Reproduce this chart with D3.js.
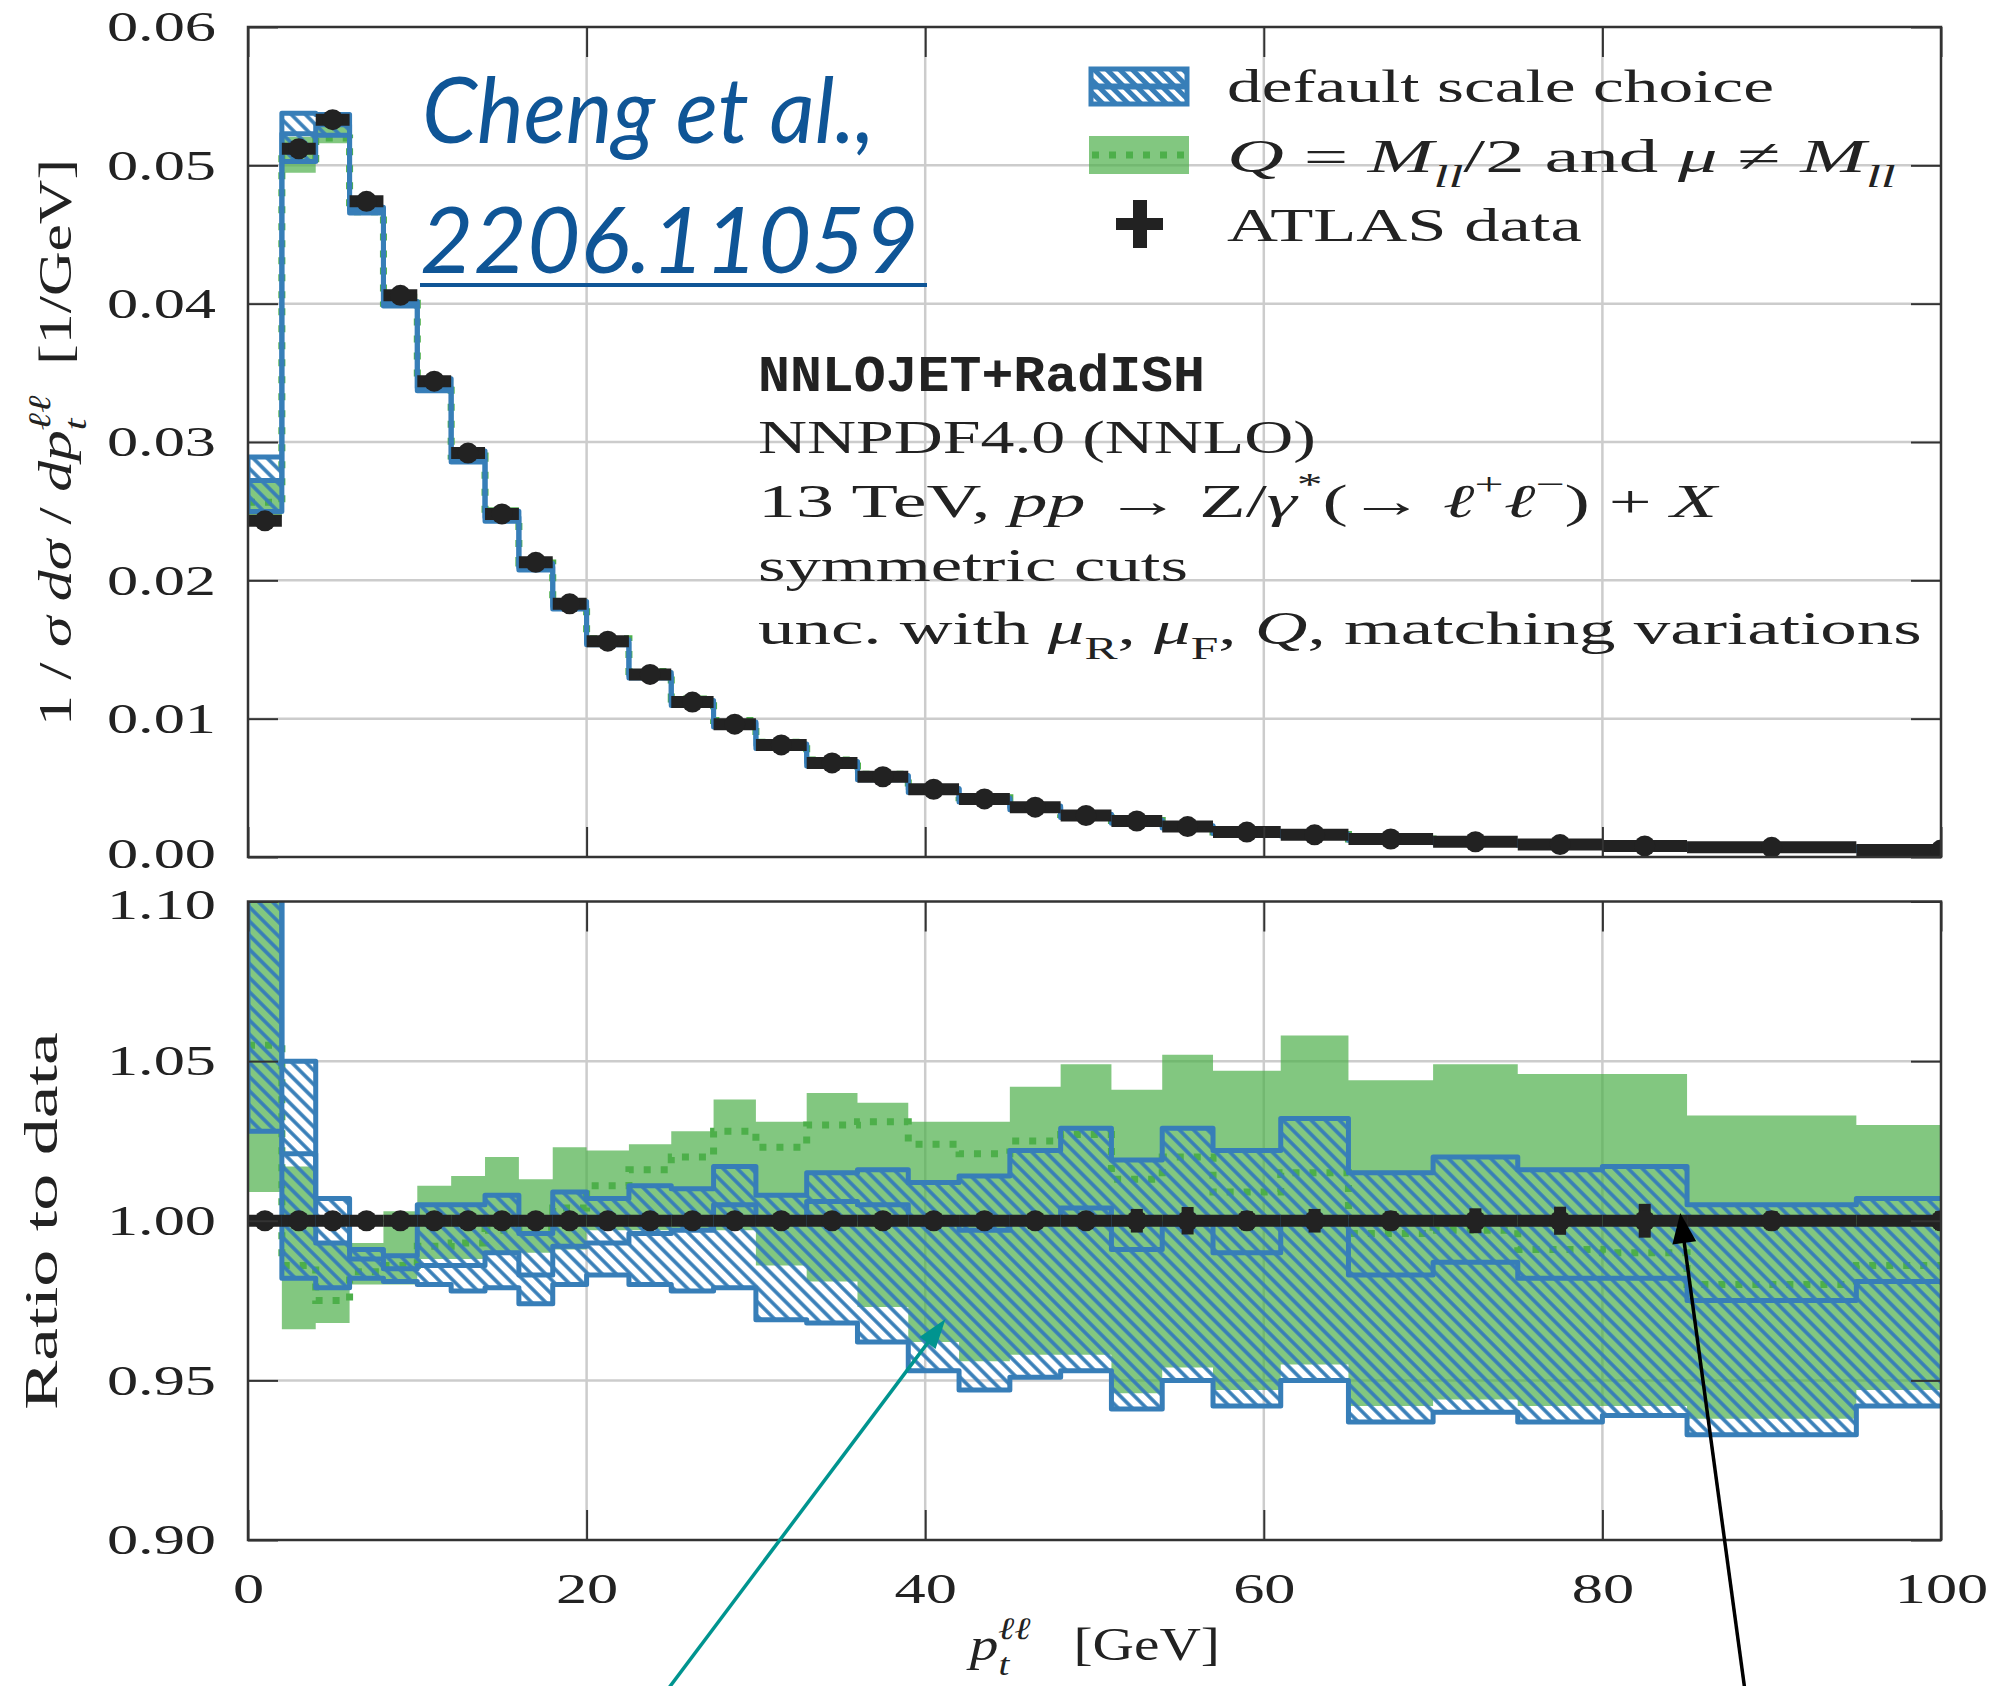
<!DOCTYPE html>
<html>
<head>
<meta charset="utf-8">
<script src="https://cdn.jsdelivr.net/npm/d3@7"></script>
<style>body{margin:0;background:#fff}</style>
</head>
<body>
<script>
const width = 1997;
const height = 1686;

const BLUE = "#377eb8", GREEN = "#4daf4a", INK = "#222222", FRAME = "#333333", GRID = "#cccccc";
const SERIF = "'Liberation Serif', 'DejaVu Serif', serif";
const MONO = "'Liberation Mono', 'DejaVu Sans Mono', monospace";

// ATLAS binning in pT(ll) [GeV]
const binEdges = [0, 2, 4, 6, 8, 10, 12, 14, 16, 18, 20, 22.5, 25, 27.5, 30, 33, 36, 39, 42, 45,
    48, 51, 54, 57, 61, 65, 70, 75, 80, 85, 95, 105];

// 1/sigma dsigma/dpT [1/GeV]
const atlasData = [0.0243, 0.0512, 0.0533, 0.0474, 0.0406, 0.0344, 0.0292, 0.0248, 0.0213, 0.0183,
    0.0156, 0.0132, 0.0112, 0.0096, 0.0081, 0.0068, 0.0058, 0.0049, 0.0042, 0.0036,
    0.0030, 0.0026, 0.0022, 0.0018, 0.0016, 0.0013, 0.0011, 0.0009, 0.0008, 0.0007, 0.0005];
// relative data uncertainty
const dataErr = [0.002, 0.002, 0.002, 0.002, 0.002, 0.002, 0.002, 0.002, 0.002, 0.002,
    0.002, 0.002, 0.002, 0.002, 0.002, 0.002, 0.002, 0.002, 0.002, 0.002,
    0.002, 0.0037, 0.0043, 0.003, 0.0037, 0.003, 0.0039, 0.0044, 0.0053, 0.003, 0.003];

// default scale choice, ratio to data
const blueHi = [1.190, 1.050, 1.007, 0.991, 0.989, 1.005, 1.005, 1.008, 0.996, 1.009,
    1.007, 1.011, 1.010, 1.017, 1.008, 1.015, 1.016, 1.012, 1.014, 1.022,
    1.029, 1.019, 1.029, 1.022, 1.032, 1.015, 1.020, 1.016, 1.017, 1.005, 1.007];
const blueLo = [1.028, 0.982, 0.979, 0.982, 0.981, 0.980, 0.978, 0.979, 0.974, 0.980,
    0.983, 0.980, 0.978, 0.979, 0.969, 0.968, 0.962, 0.953, 0.947, 0.951,
    0.953, 0.941, 0.950, 0.942, 0.950, 0.937, 0.940, 0.937, 0.939, 0.933, 0.942];
const blueMid = [1.120, 1.021, 0.993, 0.988, 0.985, 0.986, 0.986, 0.990, 0.983, 0.992,
    0.993, 0.996, 0.997, 1.005, 1.000, 1.006, 1.005, 0.999, 0.997, 1.000,
    1.004, 0.991, 0.999, 0.990, 1.000, 0.983, 0.987, 0.982, 0.982, 0.975, 0.981];

// Q = Mll/2 and mu != Mll, ratio to data
const greenHi = [1.120, 1.017, 0.993, 0.993, 1.003, 1.011, 1.014, 1.020, 1.013, 1.023,
    1.022, 1.024, 1.028, 1.038, 1.031, 1.040, 1.037, 1.031, 1.031, 1.042,
    1.049, 1.041, 1.052, 1.047, 1.058, 1.044, 1.049, 1.046, 1.046, 1.033, 1.030];
const greenLo = [1.009, 0.966, 0.968, 0.980, 0.980, 0.988, 0.988, 0.990, 0.990, 0.991,
    0.997, 0.997, 0.997, 0.997, 0.986, 0.981, 0.973, 0.962, 0.956, 0.958,
    0.958, 0.946, 0.954, 0.947, 0.955, 0.942, 0.944, 0.942, 0.942, 0.938, 0.947];
const greenMid = [1.055, 0.986, 0.975, 0.984, 0.986, 0.992, 0.993, 0.997, 0.998, 1.004,
    1.011, 1.016, 1.020, 1.028, 1.023, 1.030, 1.031, 1.024, 1.021, 1.025,
    1.027, 1.013, 1.020, 1.009, 1.015, 0.996, 0.997, 0.991, 0.990, 0.980, 0.986];

const xTicks = [0, 20, 40, 60, 80, 100];
const topTicks = [0, 0.01, 0.02, 0.03, 0.04, 0.05, 0.06];
const ratioTicks = [0.90, 0.95, 1.00, 1.05, 1.10];

// annotation arrows, [pT, ratio]
const tealArrow = [[24.3, 0.8497], [41.2, 0.9692]];
const blackArrow = [[88.5, 0.8497], [84.6, 1.0024]];

const n = atlasData.length;

const x = d3.scaleLinear().domain([0, 100]).range([248, 1941]);
const yTop = d3.scaleLinear().domain([0, 0.06]).range([857, 27]);
const yRat = d3.scaleLinear().domain([0.9, 1.1]).range([1540, 901.5]);

const svg = d3.select("body").append("svg")
    .attr("width", width)
    .attr("height", height);

svg.append("rect").attr("width", width).attr("height", height).attr("fill", "#fff");

const defs = svg.append("defs");
defs.append("pattern")
    .attr("id", "hatch")
    .attr("patternUnits", "userSpaceOnUse")
    .attr("width", 10).attr("height", 10)
    .attr("patternTransform", "rotate(-45)")
    .append("line")
    .attr("x1", 5).attr("y1", -2).attr("x2", 5).attr("y2", 12)
    .attr("stroke", BLUE).attr("stroke-width", 3.6);
defs.append("pattern")
    .attr("id", "hatchLegend")
    .attr("patternUnits", "userSpaceOnUse")
    .attr("width", 9).attr("height", 9)
    .attr("patternTransform", "rotate(-45)")
    .append("line")
    .attr("x1", 4.5).attr("y1", -2).attr("x2", 4.5).attr("y2", 11)
    .attr("stroke", BLUE).attr("stroke-width", 5);

function addClip(id, yScale) {
    defs.append("clipPath").attr("id", id).append("rect")
        .attr("x", x(0)).attr("y", yScale.range()[1])
        .attr("width", x(100) - x(0))
        .attr("height", yScale.range()[0] - yScale.range()[1]);
}
addClip("clipTop", yTop);
addClip("clipRat", yRat);

// norm: multiply ratios by this to get panel values (data for top, 1 for ratio)
function drawPanel(yScale, norm, clipId, gridVals) {
    const g = svg.append("g");
    const [y0, y1] = yScale.range();

    g.append("g").selectAll("line")
        .data(xTicks.slice(1, -1))
        .join("line")
        .attr("x1", d => x(d)).attr("x2", d => x(d))
        .attr("y1", y1).attr("y2", y0)
        .attr("stroke", GRID).attr("stroke-width", 2.5);
    g.append("g").selectAll("line")
        .data(gridVals)
        .join("line")
        .attr("x1", x(0)).attr("x2", x(100))
        .attr("y1", d => yScale(d)).attr("y2", d => yScale(d))
        .attr("stroke", GRID).attr("stroke-width", 2.5);

    const body = g.append("g").attr("clip-path", `url(#${clipId})`);

    const pts = binEdges.map((e, i) => {
        const k = Math.min(i, n - 1);
        return {
            e,
            bHi: blueHi[k] * norm[k], bLo: blueLo[k] * norm[k], bMid: blueMid[k] * norm[k],
            gHi: greenHi[k] * norm[k], gLo: greenLo[k] * norm[k], gMid: greenMid[k] * norm[k]
        };
    });

    const area = (hi, lo) => d3.area()
        .curve(d3.curveStepAfter)
        .x(d => x(d.e))
        .y0(d => yScale(d[lo]))
        .y1(d => yScale(d[hi]));
    const line = key => d3.line()
        .curve(d3.curveStepAfter)
        .x(d => x(d.e))
        .y(d => yScale(d[key]));

    body.append("path")
        .attr("d", area("gHi", "gLo")(pts))
        .attr("fill", GREEN).attr("fill-opacity", 0.7);
    body.append("path")
        .attr("d", line("gMid")(pts))
        .attr("fill", "none").attr("stroke", GREEN)
        .attr("stroke-width", 7).attr("stroke-dasharray", "7,10");

    body.append("path")
        .attr("d", area("bHi", "bLo")(pts))
        .attr("fill", "url(#hatch)")
        .attr("stroke", BLUE).attr("stroke-width", 5)
        .attr("stroke-linejoin", "round");
    body.append("path")
        .attr("d", line("bMid")(pts))
        .attr("fill", "none").attr("stroke", BLUE)
        .attr("stroke-width", 5).attr("stroke-linejoin", "round");

    const pointData = atlasData.map((v, i) => ({
        lo: binEdges[i], hi: binEdges[i + 1],
        c: (binEdges[i] + binEdges[i + 1]) / 2,
        v: norm[i] === 1 ? 1 : v,
        err: dataErr[i]
    }));

    const pg = body.append("g");
    pg.selectAll("line.xe")
        .data(pointData)
        .join("line")
        .attr("x1", d => x(d.lo)).attr("x2", d => x(d.hi))
        .attr("y1", d => yScale(d.v)).attr("y2", d => yScale(d.v))
        .attr("stroke", INK).attr("stroke-width", 12);
    pg.selectAll("line.ye")
        .data(pointData)
        .join("line")
        .attr("x1", d => x(d.c)).attr("x2", d => x(d.c))
        .attr("y1", d => yScale(d.v * (1 - d.err))).attr("y2", d => yScale(d.v * (1 + d.err)))
        .attr("stroke", INK).attr("stroke-width", 12);
    pg.selectAll("circle")
        .data(pointData)
        .join("circle")
        .attr("cx", d => x(d.c)).attr("cy", d => yScale(d.v))
        .attr("r", 10.5)
        .attr("fill", INK);
}

function styleAxis(g, labels, nudge) {
    g.select(".domain").remove();
    g.attr("color", FRAME);
    g.selectAll(".tick line").attr("stroke-width", 2);
    if (!labels) {
        g.selectAll("text").remove();
        return;
    }
    g.selectAll("text")
        .attr("font-family", SERIF)
        .attr("font-size", 43)
        .attr("fill", INK)
        .each(function (d) {
            const t = d3.select(this);
            const x0 = +t.attr("x") || 0;
            const dy = nudge ? nudge(d) : 0;
            t.attr("transform", `translate(${x0},${dy}) scale(1.45,1) translate(${-x0},0)`);
        });
}

function drawAxes(yScale, yTicks, xLabels, nudge) {
    const [y0, y1] = yScale.range();
    svg.append("g").attr("transform", `translate(${x(0)},0)`)
        .call(d3.axisLeft(yScale).tickValues(yTicks).tickSize(-30).tickPadding(32)
            .tickFormat(d3.format(".2f")))
        .call(g => styleAxis(g, true, nudge));
    svg.append("g").attr("transform", `translate(${x(100)},0)`)
        .call(d3.axisRight(yScale).tickValues(yTicks).tickSize(-30))
        .call(g => styleAxis(g, false));
    svg.append("g").attr("transform", `translate(0,${y1})`)
        .call(d3.axisTop(x).tickValues(xTicks).tickSize(-30))
        .call(g => styleAxis(g, false));
    svg.append("g").attr("transform", `translate(0,${y0})`)
        .call(d3.axisBottom(x).tickValues(xTicks).tickSize(-30).tickPadding(32)
            .tickFormat(d3.format("d")))
        .call(g => styleAxis(g, xLabels));
    svg.append("rect")
        .attr("x", x(0)).attr("y", y1)
        .attr("width", x(100) - x(0)).attr("height", y0 - y1)
        .attr("fill", "none").attr("stroke", FRAME).attr("stroke-width", 2.5);
}

drawPanel(yTop, atlasData, "clipTop", topTicks.slice(1, -1));
drawPanel(yRat, atlasData.map(() => 1), "clipRat", ratioTicks.slice(1, -1));
// the two labels at the panel junction are pushed slightly apart
drawAxes(yTop, topTicks, false, d => (d === 0 ? -3 : 0));
drawAxes(yRat, ratioTicks, true, d => (d === 1.1 ? 3 : 0));

// text helpers
function rich(parent, segs, size, family) {
    const t = parent.append("text")
        .attr("font-family", family)
        .attr("font-size", size)
        .attr("fill", INK)
        .style("white-space", "pre");
    let shift = 0;
    segs.forEach(([str, kind = "rm", dx = 0]) => {
        const sub = kind.startsWith("sub"), sup = kind.startsWith("sup");
        const target = sub ? 0.32 * size : sup ? -0.46 * size : 0;
        const sp = t.append("tspan").attr("dy", target - shift).text(str);
        shift = target;
        if (sub || sup) sp.attr("font-size", size * 0.68);
        if (kind.endsWith("it")) sp.attr("font-style", "italic");
        if (dx) sp.attr("dx", dx);
    });
    return t;
}

function fit(t, w, anchor) {
    const bb = t.node().getBBox();
    const sx = w / bb.width;
    const ox = anchor === "end" ? -w : anchor === "middle" ? -w / 2 : 0;
    t.attr("transform", `translate(${ox - bb.x * sx},0) scale(${sx},1)`);
    return t;
}

function label(tx, ty, rot, segs, size, family, w, anchor) {
    const g = svg.append("g").attr("transform", `translate(${tx},${ty})` + (rot ? ` rotate(${rot})` : ""));
    const t = rich(g, segs, size, family);
    fit(t, w, anchor);
    return t;
}

// axis titles
label(71, 442.5, -90, [["1 / "], ["σ", "it"], [" d", "it"], ["σ", "it"], [" / "], ["d", "it"], ["p", "it"],
    ["t", "subit"], ["ℓℓ", "supit", -9], ["  [1/GeV]"]], 46, SERIF, 567, "middle");
label(57, 1221, -90, [["Ratio to data"]], 46, SERIF, 378, "middle");
label(966, 1660, 0, [["p", "it"], ["t", "subit"], ["ℓℓ", "supit", -9], ["   [GeV]"]], 46, SERIF, 254, "start");

// process info
label(758, 391, 0, [["NNLOJET+RadISH"]], 52, MONO, 447, "start").attr("font-weight", "bold");
label(758, 453, 0, [["NNPDF4.0 (NNLO)"]], 47, SERIF, 558, "start");
label(758, 517, 0, [["13 TeV, "], ["pp", "it"], [" → Z/"], ["γ", "it"], ["*", "sup"], ["(→ "], ["ℓ", "it"], ["+", "sup"],
    ["ℓ", "it"], ["−", "sup"], [") + "], ["X", "it"]], 47, SERIF, 963, "start");
label(758, 581, 0, [["symmetric cuts"]], 47, SERIF, 430, "start");
label(758, 644, 0, [["unc. with "], ["μ", "it"], ["R", "sub"], [", "], ["μ", "it"], ["F", "sub"], [", "], ["Q", "it"],
    [", matching variations"]], 47, SERIF, 1164, "start");

// reference
const CITE = "#0f5596";
label(422, 143, 0, [["Cheng et al.,"]], 92, "Lato, 'Open Sans', sans-serif", 478, "start")
    .attr("font-style", "italic").attr("fill", CITE);
label(420, 273, 0, [["2206.11059"]], 92, "Lato, 'Open Sans', sans-serif", 503, "start")
    .attr("font-style", "italic").attr("fill", CITE);
svg.append("line").attr("x1", 420).attr("x2", 927).attr("y1", 285).attr("y2", 285)
    .attr("stroke", CITE).attr("stroke-width", 4);

// legend
const lg = svg.append("g");
lg.append("rect").attr("x", 1091).attr("y", 69).attr("width", 96).attr("height", 35)
    .attr("fill", "url(#hatchLegend)").attr("stroke", BLUE).attr("stroke-width", 5);
lg.append("line").attr("x1", 1091).attr("x2", 1187).attr("y1", 86.5).attr("y2", 86.5)
    .attr("stroke", BLUE).attr("stroke-width", 6);
lg.append("rect").attr("x", 1089).attr("y", 136).attr("width", 100).attr("height", 38)
    .attr("fill", GREEN).attr("fill-opacity", 0.7);
lg.append("line").attr("x1", 1092).attr("x2", 1189).attr("y1", 155).attr("y2", 155)
    .attr("stroke", GREEN).attr("stroke-width", 7).attr("stroke-dasharray", "7,10");
lg.append("line").attr("x1", 1116).attr("x2", 1163).attr("y1", 224).attr("y2", 224)
    .attr("stroke", INK).attr("stroke-width", 12);
lg.append("line").attr("x1", 1140).attr("x2", 1140).attr("y1", 200).attr("y2", 248)
    .attr("stroke", INK).attr("stroke-width", 14);

label(1227, 102, 0, [["default scale choice"]], 47, SERIF, 547, "start");
label(1227, 172, 0, [["Q", "it"], [" = "], ["M", "it"], ["ll", "subit"], ["/2 and "], ["μ", "it"], [" ≠ "], ["M", "it"],
    ["ll", "subit"]], 47, SERIF, 669, "start");
label(1227, 241, 0, [["ATLAS data"]], 47, SERIF, 355, "start");

// arrows
function arrow([from, to], color, lw, headLen, headW) {
    const x0 = x(from[0]), y0 = yRat(from[1]), x1 = x(to[0]), y1 = yRat(to[1]);
    const len = Math.hypot(x1 - x0, y1 - y0);
    const ux = (x1 - x0) / len, uy = (y1 - y0) / len;
    const bx = x1 - ux * headLen, by = y1 - uy * headLen;
    svg.append("line")
        .attr("x1", x0).attr("y1", y0)
        .attr("x2", x1 - ux * headLen * 0.7).attr("y2", y1 - uy * headLen * 0.7)
        .attr("stroke", color).attr("stroke-width", lw);
    svg.append("path")
        .attr("d", `M${x1},${y1}L${bx - uy * headW},${by + ux * headW}L${bx + uy * headW},${by - ux * headW}Z`)
        .attr("fill", color);
}
arrow(tealArrow, "#00948f", 3.5, 30, 10);
arrow(blackArrow, "#000000", 3.5, 30, 12);
</script>
</body>
</html>
